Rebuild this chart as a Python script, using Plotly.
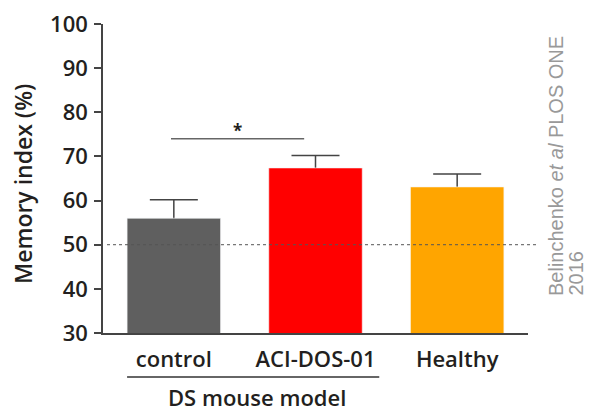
import plotly.graph_objects as go

categories = ["control", "ACI-DOS-01", "Healthy"]
values = [56.0, 67.4, 63.1]
errors = [4.2, 2.8, 2.9]
colors = ["#5f5f5f", "#ff0000", "#ffa500"]
y_ticks = [30, 40, 50, 60, 70, 80, 90, 100]
chance_level = 50
sig_level = 74.0

FONT = "Open Sans"
TXT = "#231f20"
L, R, T, B = 103, 62, 24, 79
W, H = 590, 412
PW, PH = W - L - R, H - T - B

def px_x(p):
    return (p - L) / PW

def px_y(p):
    return (H - B - p) / PH

fig = go.Figure()
# error bars (lower half hidden behind the bars drawn next)
fig.add_trace(go.Bar(
    x=categories, y=values, width=0.66, marker=dict(color="rgba(0,0,0,0)"),
    error_y=dict(type="data", array=errors, color="#444", thickness=1.5, width=24),
    hoverinfo="skip",
))
fig.add_trace(go.Bar(
    x=categories, y=values, width=0.66,
    marker=dict(color=colors, line=dict(color="rgba(255,255,255,0.6)", width=1)),
))

# chance level dotted line
fig.add_shape(type="line", xref="paper", yref="y", x0=px_x(107), x1=px_x(539),
              y0=chance_level, y1=chance_level,
              line=dict(color="#555", width=1, dash="dot"), layer="above")
# significance line
fig.add_shape(type="line", xref="x", yref="y", x0=-0.02, x1=0.92,
              y0=sig_level, y1=sig_level, line=dict(color="#666", width=1.5))
fig.add_annotation(x=0.45, y=sig_level, xref="x", yref="y", text="<b>*</b>",
                   showarrow=False, yanchor="bottom", yshift=-5,
                   font=dict(family=FONT, size=17, color=TXT))
# group bracket
fig.add_shape(type="line", xref="x", yref="paper", x0=-0.33, x1=1.45,
              y0=px_y(377), y1=px_y(377), line=dict(color="#333", width=1.5))
fig.add_annotation(x=0.585, y=px_y(414), xref="x", yref="paper", text="DS mouse model",
                   showarrow=False, xanchor="center", yanchor="bottom",
                   font=dict(family=FONT, size=22, color=TXT, weight=600))
# y-axis title
fig.add_annotation(x=px_x(23), y=px_y(184), xref="paper", yref="paper",
                   text="Memory index (%)", textangle=-90, showarrow=False,
                   xanchor="center", yanchor="middle",
                   font=dict(family=FONT, size=23, color=TXT, weight=600))
# citation
fig.add_annotation(x=px_x(556), y=px_y(298), xref="paper", yref="paper",
                   text="Belinchenko <i>et al</i> PLOS ONE",
                   textangle=-90, showarrow=False,
                   xanchor="center", yanchor="bottom",
                   font=dict(family="Liberation Sans, Arial", size=20, color="#999"))
fig.add_annotation(x=px_x(575), y=px_y(298), xref="paper", yref="paper",
                   text="2016",
                   textangle=-90, showarrow=False,
                   xanchor="center", yanchor="bottom",
                   font=dict(family="Liberation Sans, Arial", size=20, color="#999"))

fig.update_layout(
    width=W, height=H,
    margin=dict(l=L, r=R, t=T, b=B, autoexpand=False),
    plot_bgcolor="white", paper_bgcolor="white",
    showlegend=False, barmode="overlay",
    font=dict(family=FONT, color=TXT),
    xaxis=dict(range=[-0.5, 2.5], showline=True, linecolor="#444", linewidth=1.5,
               ticks="outside", ticklen=6, tickcolor="rgba(0,0,0,0)", automargin=False,
               tickfont=dict(family=FONT, size=22, color=TXT, weight=600),
               showgrid=False, zeroline=False),
    yaxis=dict(range=[30, 100], tickvals=y_ticks, showline=True, linecolor="#444",
               linewidth=1.5, ticks="outside", ticklen=7, tickcolor="#444", tickwidth=1.5,
               automargin=False, ticklabelstandoff=2,
               tickfont=dict(family=FONT, size=22, color=TXT, weight=600),
               showgrid=False, zeroline=False),
)

fig.write_html("out.html", config={"displayModeBar": False},
               post_script="document.body.style.margin='0';document.body.style.overflow='hidden';")
